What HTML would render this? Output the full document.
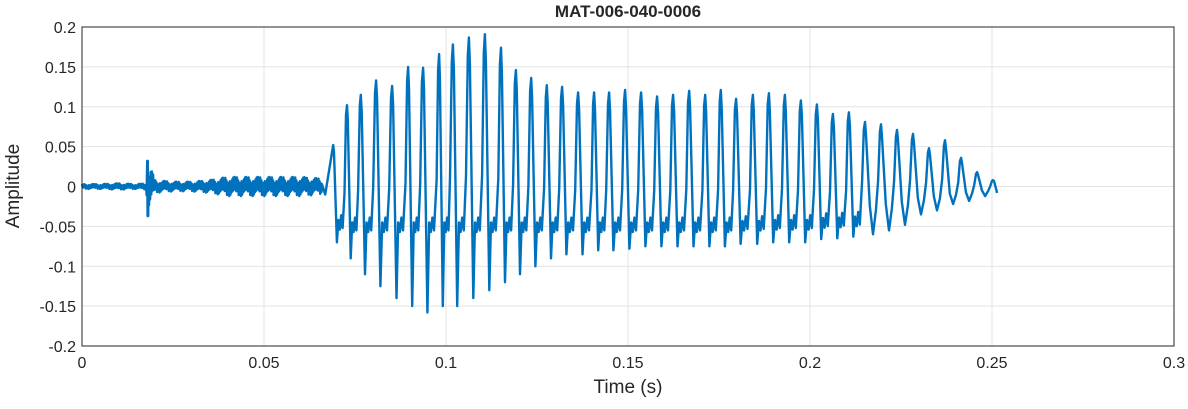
<!DOCTYPE html>
<html><head><meta charset="utf-8"><style>
html,body{margin:0;padding:0;background:#fff;}
svg text{font-family:"Liberation Sans",Arial,sans-serif;fill:#262626;}
</style></head><body>
<svg id="chart" width="1188" height="404" xmlns="http://www.w3.org/2000/svg">
<rect width="1188" height="404" fill="#fff"/>
<g id="grid"></g>
<g id="plot"></g>
<rect x="82" y="27" width="1092" height="319" fill="none" stroke="#262626" stroke-width="1"/>
<g id="ticks"></g>
<text x="628" y="17" text-anchor="middle" font-size="17" font-weight="bold" fill="#000">MAT-006-040-0006</text>
<text x="628" y="393" text-anchor="middle" font-size="19">Time (s)</text>
<text transform="translate(19,186) rotate(-90)" text-anchor="middle" font-size="19">Amplitude</text>
</svg>
<script>
const xTicks=[0,0.05,0.1,0.15,0.2,0.25,0.3];
const xTickLabels=["0","0.05","0.1","0.15","0.2","0.25","0.3"];
const yTicks=[-0.2,-0.15,-0.1,-0.05,0,0.05,0.1,0.15,0.2];
const yTickLabels=["-0.2","-0.15","-0.1","-0.05","0","0.05","0.1","0.15","0.2"];
// pre-voicing noise envelope (time, amplitude)
const noiseTimes=[0,0.005,0.01,0.015,0.0175,0.0185,0.02,0.025,0.03,0.035,0.04,0.05,0.06,0.066];
const noiseAmps=[0.003,0.003,0.004,0.003,0.004,0.03,0.008,0.006,0.006,0.008,0.012,0.012,0.012,0.01];
const noiseShape=[1,0.35,0.8,0.5,0.95,0.2,0.65,0.9,0.4,0.7,0.3,1,0.55,0.85,0.25,0.6,0.75,0.45,0.95,0.3];
// voiced cycles: peak times, peak values, trough values
const peakTimes=[0.0690,0.0728,0.0766,0.0808,0.0852,0.0896,0.0937,0.0981,0.1019,0.1063,0.1107,0.1151,0.1192,0.1234,0.1277,0.1319,0.1363,0.1407,0.1448,0.1492,0.1536,0.1580,0.1624,0.1668,0.1712,0.1755,0.1797,0.1843,0.1887,0.1931,0.1975,0.2019,0.2063,0.2107,0.2151,0.2195,0.2239,0.2283,0.2327,0.2371,0.2415,0.2459,0.2503];
const peakValues=[0.052,0.102,0.115,0.133,0.126,0.150,0.149,0.166,0.178,0.187,0.191,0.174,0.146,0.136,0.127,0.125,0.118,0.118,0.118,0.121,0.118,0.113,0.115,0.120,0.115,0.121,0.110,0.115,0.117,0.115,0.108,0.103,0.091,0.093,0.081,0.078,0.071,0.066,0.048,0.058,0.036,0.018,0.008];
const troughValues=[-0.07,-0.09,-0.11,-0.125,-0.14,-0.15,-0.158,-0.15,-0.15,-0.14,-0.13,-0.12,-0.11,-0.10,-0.09,-0.085,-0.085,-0.08,-0.08,-0.078,-0.075,-0.075,-0.075,-0.075,-0.075,-0.075,-0.072,-0.072,-0.07,-0.07,-0.07,-0.066,-0.065,-0.063,-0.06,-0.055,-0.048,-0.035,-0.03,-0.022,-0.018,-0.012,-0.008];

const X0=82,X1=1174,Y0=346,Y1=27;
const sx=t=>X0+(t-0)/(0.3)*(X1-X0);
const sy=v=>Y0-(v+0.2)/0.4*(Y0-Y1);
const NS="http://www.w3.org/2000/svg";
const grid=document.getElementById('grid'),ticks=document.getElementById('ticks'),plot=document.getElementById('plot');
xTicks.forEach((t,i)=>{
  const l=document.createElementNS(NS,'line');
  l.setAttribute('x1',sx(t));l.setAttribute('x2',sx(t));l.setAttribute('y1',Y1);l.setAttribute('y2',Y0);
  l.setAttribute('stroke','#e3e3e3');
  
  
  grid.appendChild(l);
  const tx=document.createElementNS(NS,'text');
  tx.setAttribute('x',sx(t));tx.setAttribute('y',Y0+22);tx.setAttribute('text-anchor','middle');tx.setAttribute('font-size','16');
  tx.textContent=xTickLabels[i];
  
  
  ticks.appendChild(tx);
});
yTicks.forEach((v,i)=>{
  const l=document.createElementNS(NS,'line');
  l.setAttribute('x1',X0);l.setAttribute('x2',X1);l.setAttribute('y1',sy(v));l.setAttribute('y2',sy(v));
  l.setAttribute('stroke','#e3e3e3');
  
  
  grid.appendChild(l);
  const tx=document.createElementNS(NS,'text');
  tx.setAttribute('x',X0-6);tx.setAttribute('y',sy(v)+6);tx.setAttribute('text-anchor','end');tx.setAttribute('font-size','16');
  tx.textContent=yTickLabels[i];
  
  
  ticks.appendChild(tx);
});
const pts=[];
const ampAt=t=>{for(let i=0;i<noiseTimes.length-1;i++){if(t>=noiseTimes[i]&&t<=noiseTimes[i+1]){const f=(t-noiseTimes[i])/(noiseTimes[i+1]-noiseTimes[i]);return noiseAmps[i]+f*(noiseAmps[i+1]-noiseAmps[i]);}}return noiseAmps[noiseAmps.length-1];};
let sgn=1,k=0;
for(let t=0;t<0.066;t+=0.00016){
  const a=ampAt(t);
  if(Math.abs(t-0.018)<0.0002){pts.push([t,0.032]);pts.push([t+0.0001,-0.037]);continue;}
  const m=noiseShape[k%noiseShape.length];
  pts.push([t,sgn*a*m]);sgn=-sgn;k++;
}
pts.push([0.0668,-0.01]);
for(let i=0;i<peakTimes.length;i++){
  const t=peakTimes[i];
  const P=(i<peakTimes.length-1?peakTimes[i+1]:t+0.0044)-t;
  const pk=peakValues[i],tr=troughValues[i];
  const pl=i<34?Math.max(tr*0.6,-0.045):tr*0.3;
  if(i>0){pts.push([t-0.18*P,pl+0.25*(pk-pl)]);pts.push([t-0.07*P,pk*0.88]);}
  pts.push([t,pk]);
  pts.push([t+0.06*P,pk*0.82]);
  if(i===peakTimes.length-1){pts.push([t+0.25*P,tr]);break;}
  if(i<34){
    pts.push([t+0.27*P,tr]);
    pts.push([t+0.38*P,pl]);
    pts.push([t+0.48*P,pl-0.012]);
    pts.push([t+0.58*P,pl+0.006]);
    pts.push([t+0.68*P,pl-0.01]);
  } else {
    pts.push([t+0.3*P,tr*0.4]);
    pts.push([t+0.5*P,tr]);
    pts.push([t+0.68*P,tr*0.5]);
  }
}
const d=pts.map((p,i)=>(i?'L':'M')+sx(p[0]).toFixed(1)+','+sy(p[1]).toFixed(1)).join('');
const path=document.createElementNS(NS,'path');
path.setAttribute('d',d);path.setAttribute('fill','none');path.setAttribute('stroke','#0072BD');path.setAttribute('stroke-width','2.4');path.setAttribute('stroke-linejoin','round');


plot.appendChild(path);
</script>
</body></html>
